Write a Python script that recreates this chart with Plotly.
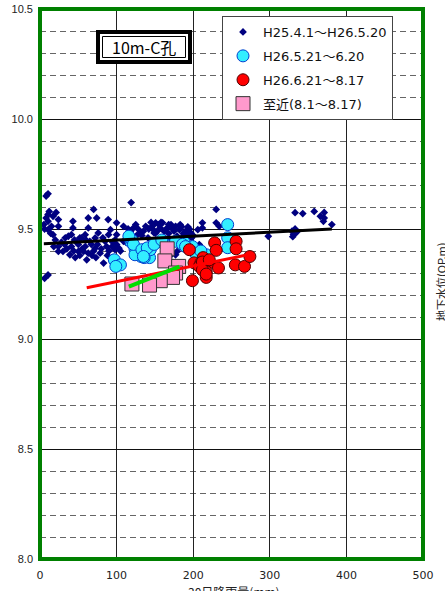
import plotly.graph_objects as go

# ---- data ----
h25_x = [10.5, 8, 119, 70, 63, 74, 89, 10.5, 17, 10.5, 15, 10.5, 17, 21, 24, 24, 43, 43, 63, 37,
         24, 24, 30, 32, 41, 39, 50, 50, 57, 59, 63, 65, 72, 72, 76, 78.5, 83, 85, 89.5, 92, 94, 98,
         41, 54, 59, 10.5, 6,
         100, 109, 122, 138, 151, 157, 166, 171, 182, 192.5, 206, 100, 131, 149, 109, 103, 171, 177, 206, 98,
         146.5, 160, 168, 177, 190, 197, 151, 212, 212, 230, 230, 234, 298, 208, 151, 179, 179,
         333, 343, 358, 366, 371, 370, 381, 371, 329, 331, 333, 330, 335,
         45, 48, 52, 55, 60, 67, 70, 75, 80, 82, 87, 90, 95, 100,
         5, 8, 12, 6, 14, 20, 18, 28, 33, 35, 44, 46, 52, 61, 68, 73, 88, 96, 105, 112, 115,
         128, 135, 142, 145, 155, 162, 175, 185, 188, 195, 200, 163, 170, 141, 126,
         118, 125, 133, 147, 153, 158, 168, 173, 183, 187, 193, 198]
h25_y = [9.66, 9.65, 9.62, 9.589, 9.55, 9.55, 9.543, 9.566, 9.558, 9.535, 9.512, 9.497, 9.474, 9.575, 9.543, 9.512, 9.535, 9.505, 9.505, 9.467,
         9.42, 9.398, 9.398, 9.43, 9.42, 9.383, 9.43, 9.398, 9.398, 9.42, 9.39, 9.444, 9.459, 9.413, 9.482, 9.39, 9.345, 9.444, 9.474, 9.497, 9.42, 9.451,
         9.474, 9.459, 9.474, 9.291, 9.276,
         9.528, 9.512, 9.505, 9.512, 9.528, 9.505, 9.505, 9.52, 9.497, 9.482, 9.497, 9.474, 9.482, 9.482, 9.444, 9.413, 9.383, 9.383, 9.368, 9.406,
         9.512, 9.528, 9.52, 9.512, 9.49, 9.482, 9.482, 9.528, 9.505, 9.589, 9.528, 9.512, 9.467, 9.429, 9.451, 9.467, 9.398,
         9.574, 9.57, 9.58, 9.558, 9.575, 9.535, 9.52, 9.55, 9.49, 9.475, 9.50, 9.465, 9.485,
         9.45, 9.44, 9.46, 9.41, 9.45, 9.43, 9.40, 9.43, 9.41, 9.46, 9.42, 9.40, 9.44, 9.43,
         9.52, 9.55, 9.58, 9.50, 9.48, 9.45, 9.42, 9.44, 9.46, 9.41, 9.40, 9.37, 9.38, 9.36, 9.38, 9.37, 9.38, 9.37, 9.40, 9.44, 9.50,
         9.50, 9.49, 9.50, 9.53, 9.52, 9.49, 9.49, 9.51, 9.47, 9.50, 9.47, 9.46, 9.45, 9.46, 9.47,
         9.49, 9.52, 9.47, 9.50, 9.49, 9.53, 9.48, 9.50, 9.52, 9.48, 9.51, 9.46]

h26a_x = [117, 124, 132, 143, 143, 97, 105, 99, 119, 124, 245, 245, 245, 199, 188, 162, 144, 136, 120,
          217, 203, 116, 122, 133, 140, 149, 159, 177, 186, 190, 135, 210]
h26a_y = [9.46, 9.41, 9.375, 9.41, 9.37, 9.36, 9.337, 9.33, 9.44, 9.383, 9.52, 9.46, 9.415, 9.42, 9.44, 9.433, 9.406, 9.37, 9.45,
          9.383, 9.39, 9.467, 9.43, 9.406, 9.414, 9.43, 9.45, 9.444, 9.43, 9.42, 9.375, 9.40]

h26b_x = [228, 256, 256, 230, 195, 213, 201, 210, 221, 214, 217, 217, 199, 233, 255, 267, 274, 208, 212, 221, 212, 217]
h26b_y = [9.437, 9.444, 9.41, 9.403, 9.406, 9.37, 9.346, 9.346, 9.348, 9.323, 9.306, 9.28, 9.265, 9.323, 9.337, 9.33, 9.375, 9.33, 9.35, 9.36, 9.314, 9.295]

recent_x = [166, 163, 181, 177, 173, 157, 143, 120]
recent_y = [9.41, 9.355, 9.33, 9.30, 9.28, 9.265, 9.245, 9.25]

fit_all_x = [5, 381]
fit_all_y = [9.433, 9.50]
fit_red_x = [61, 276]
fit_red_y = [9.233, 9.386]
fit_pink_x = [116, 182]
fit_pink_y = [9.238, 9.329]

names = ["H25.4.1～H26.5.20", "H26.5.21～6.20", "H26.6.21～8.17", "至近(8.1～8.17)"]

JP = "Noto Sans CJK JP"
WIDE = "DejaVu Sans, Noto Sans CJK JP"

fig = go.Figure()
fig.add_trace(go.Scatter(x=h25_x, y=h25_y, mode="markers", name=names[0], legendgroup="a",
                         marker=dict(symbol="diamond", size=6, color="#000080", line=dict(width=0))))
fig.add_trace(go.Scatter(x=h26a_x, y=h26a_y, mode="markers", name=names[1], legendgroup="b",
                         marker=dict(symbol="circle", size=12, color="#33EEFF", line=dict(width=1, color="#0040D0"))))
fig.add_trace(go.Scatter(x=h26b_x, y=h26b_y, mode="markers", name=names[2], legendgroup="c",
                         marker=dict(symbol="circle", size=12, color="#FF0000", line=dict(width=1, color="#500000"))))
fig.add_trace(go.Scatter(x=recent_x, y=recent_y, mode="markers", name=names[3], legendgroup="d",
                         marker=dict(symbol="square", size=14, color="#FF99CC", line=dict(width=1, color="#333333"))))
fig.add_trace(go.Scatter(x=fit_all_x, y=fit_all_y, mode="lines", showlegend=False,
                         line=dict(color="black", width=3)))
fig.add_trace(go.Scatter(x=fit_red_x, y=fit_red_y, mode="lines", showlegend=False,
                         line=dict(color="#FF0000", width=3)))
fig.add_trace(go.Scatter(x=fit_pink_x, y=fit_pink_y, mode="lines", showlegend=False,
                         line=dict(color="#00DD00", width=4)))

L, R, T, B = 40, 22, 9, 32
W, H = 445, 591
pw, ph = W - L - R, H - T - B

def px(xp):
    return (xp - L) / pw

def py(yp):
    return 1 - (yp - T) / ph

fig.update_layout(
    width=W, height=H,
    margin=dict(l=L, r=R, t=T, b=B, pad=0, autoexpand=False),
    paper_bgcolor="white", plot_bgcolor="white",
    font=dict(family=JP, size=11, color="#222"),
    showlegend=True,
    legend=dict(x=px(222), y=py(16), xanchor="left", yanchor="top",
                bgcolor="white", bordercolor="#444", borderwidth=1,
                font=dict(family=WIDE, size=13, color="#111"),
                tracegroupgap=4, itemsizing="trace"),
    xaxis=dict(range=[0, 500], dtick=100, tick0=0, showgrid=True, gridcolor="#222", gridwidth=1,
               zeroline=False, showline=False, ticks="", automargin=False, ticklabelstandoff=8,
               tickfont=dict(family="DejaVu Sans", size=11, color="#222")),
    yaxis=dict(range=[8.0, 10.5], dtick=0.5, tick0=8.0, tickformat=".1f", showgrid=True,
               gridcolor="#111", gridwidth=1, zeroline=False, showline=False, ticks="",
               automargin=False, ticklabelstandoff=6,
               tickfont=dict(family="Liberation Sans", size=11, color="#222"),
               minor=dict(dtick=0.1, showgrid=True, gridcolor="#666", gridwidth=1, griddash="6px,4px")),
    shapes=[
        dict(type="rect", xref="paper", yref="paper", x0=0, x1=1, y0=0, y1=1,
             line=dict(color="#008000", width=4)),
        dict(type="rect", xref="paper", yref="paper", x0=px(98), x1=px(190), y0=py(62), y1=py(32),
             line=dict(color="black", width=4), fillcolor="white"),
        dict(type="rect", xref="paper", yref="paper", x0=px(102.5), x1=px(185.5), y0=py(57.5), y1=py(36.5),
             line=dict(color="black", width=1)),
    ],
    annotations=[
        dict(text="10m-C孔", xref="paper", yref="paper", x=px(144), y=py(47), showarrow=False,
             font=dict(family=JP, size=16, color="black"), xanchor="center", yanchor="middle"),
        dict(text="30日降雨量(mm)", xref="paper", yref="paper", x=px(234), y=py(591), showarrow=False,
             font=dict(family=JP, size=12, color="#222"), xanchor="center", yanchor="middle"),
        dict(text="地下水位(OP.m)", xref="paper", yref="paper", x=px(441), y=py(282), showarrow=False,
             textangle=-90, font=dict(family=JP, size=11, color="#222"), xanchor="center", yanchor="middle"),
    ],
)

fig.write_html("out.html", config={"displayModeBar": False},
               post_script="document.body.style.margin='0px';document.body.style.overflow='hidden';")
